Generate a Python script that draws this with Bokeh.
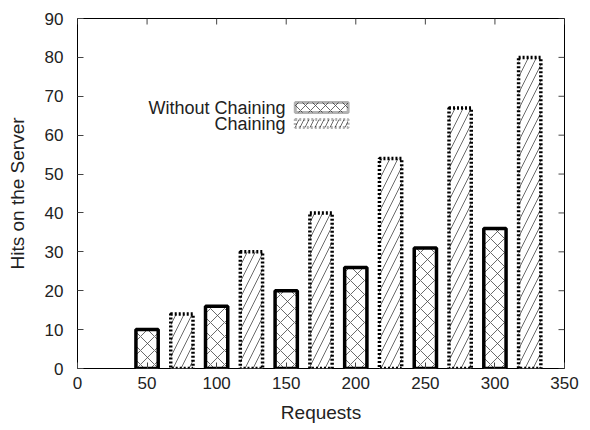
from bokeh.plotting import figure
from bokeh.models import ColumnDataSource, FixedTicker, BoxAnnotation, Label, Range1d
from bokeh.embed import file_html
from bokeh.resources import INLINE

requests_plain = [50, 100, 150, 200, 250, 300]
hits_plain = [10, 16, 20, 26, 31, 36]
requests_chain = [75, 125, 175, 225, 275, 325]
hits_chain = [14, 30, 40, 54, 67, 80]
x_ticks = [0, 50, 100, 150, 200, 250, 300, 350]
y_ticks = [0, 10, 20, 30, 40, 50, 60, 70, 80, 90]

FONT = "Liberation Sans"
TXT = "#222222"
X_MAX, Y_MAX = 350, 90

p = figure(frame_width=487, frame_height=350, output_backend="svg", toolbar_location=None,
           x_range=Range1d(0, X_MAX), y_range=Range1d(0, Y_MAX),
           min_border_left=77, min_border_top=18, min_border_right=18, min_border_bottom=50)
p.background_fill_color = "white"
p.outline_line_color = "black"
p.outline_line_width = 1
p.xgrid.visible = False
p.ygrid.visible = False

src1 = ColumnDataSource(dict(x=requests_plain, top=hits_plain))
src2 = ColumnDataSource(dict(x=requests_chain, top=hits_chain))

p.vbar(x="x", top="top", bottom=0, width=16, source=src1, fill_color="white",
       line_color="black", line_width=3.5, hatch_pattern="diagonal_cross",
       hatch_color="#444444", hatch_scale=14, hatch_weight=0.8)
p.vbar(x="x", top="top", bottom=0, width=16, source=src2, fill_color="white",
       line_color="black", line_width=3.5, line_dash="2 2", hatch_pattern="right_diagonal_line",
       hatch_color="#444444", hatch_scale=16, hatch_weight=0.8)

# mirrored inward ticks on the top and right edges
tick_len_y = Y_MAX * 6 / 350
tick_len_x = X_MAX * 6 / 487
p.segment(x0=x_ticks, y0=[Y_MAX] * len(x_ticks), x1=x_ticks, y1=[Y_MAX - tick_len_y] * len(x_ticks),
          line_color="#444444", line_width=1)
p.segment(x0=[X_MAX] * len(y_ticks), y0=y_ticks, x1=[X_MAX - tick_len_x] * len(y_ticks), y1=y_ticks,
          line_color="#444444", line_width=1)

for ax in p.axis:
    ax.axis_line_color = None
    ax.major_tick_in = 6
    ax.major_tick_out = 0
    ax.major_tick_line_color = "#444444"
    ax.minor_tick_line_color = None
    ax.major_label_text_font = FONT
    ax.major_label_text_font_size = "17px"
    ax.major_label_text_color = TXT
    ax.axis_label_text_font = FONT
    ax.axis_label_text_font_size = "19px"
    ax.axis_label_text_font_style = "normal"
    ax.axis_label_text_color = TXT

p.xaxis.ticker = FixedTicker(ticks=x_ticks)
p.yaxis.ticker = FixedTicker(ticks=y_ticks)
p.xaxis.axis_label = "Requests"
p.yaxis.axis_label = "Hits on the Server"
p.xaxis.major_label_standoff = 8
p.yaxis.major_label_standoff = 14
p.xaxis.axis_label_standoff = 10
p.yaxis.axis_label_standoff = 14

# legend (text to the left of the sample box, like the original)
legend_items = [
    ("Without Chaining", dict(line_dash="solid", hatch_pattern="diagonal_cross"), 68.4, 65.8),
    ("Chaining", dict(line_dash="2 2", hatch_pattern="right_diagonal_line"), 64.0, 62.0),
]
for label, style, top, bottom in legend_items:
    p.add_layout(BoxAnnotation(left=156.5, right=194.5, top=top, bottom=bottom,
                               fill_color="white", fill_alpha=1, line_color="black",
                               line_width=3, line_dash=style["line_dash"],
                               hatch_pattern=style["hatch_pattern"], hatch_color="#444444",
                               hatch_scale=10, hatch_weight=0.8, hatch_alpha=1))
    p.add_layout(Label(x=149.5, y=(top + bottom) / 2, text=label, text_align="right",
                       text_baseline="middle", text_font=FONT, text_font_size="18px",
                       text_color=TXT))

open("out.html", "w").write(file_html(p, INLINE))
